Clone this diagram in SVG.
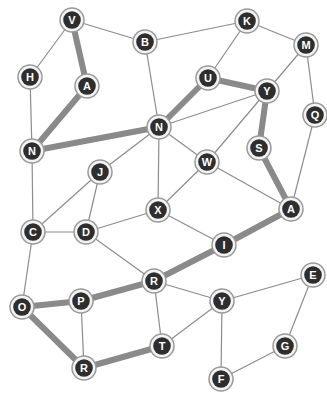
<svg xmlns="http://www.w3.org/2000/svg" width="327" height="396" viewBox="0 0 327 396">
<style>
.e{stroke:#8c8c8c;stroke-width:1.2;fill:none}
.t{stroke:#8a8a8a;stroke-width:6;fill:none;stroke-linecap:round}
.o{fill:#f4f4f4;stroke:#9a9a9a;stroke-width:1.5}
.i{fill:#2e2e2e}
.l{fill:#ffffff;font-family:"Liberation Sans",Arial,sans-serif;font-weight:bold;font-size:11px;text-anchor:middle;dominant-baseline:central}
</style>
<defs>
<g id="nd"><circle class="o" r="12"/><circle class="i" r="8.8"/></g>
</defs>
<rect width="327" height="396" fill="#ffffff"/>
<g id="connectors">
<line class="e" x1="72" y1="20" x2="145" y2="42"/>
<line class="e" x1="72" y1="20" x2="30" y2="77"/>
<line class="e" x1="30" y1="77" x2="32" y2="151"/>
<line class="e" x1="145" y1="42" x2="159" y2="127"/>
<line class="e" x1="145" y1="42" x2="247" y2="21"/>
<line class="e" x1="247" y1="21" x2="208" y2="78"/>
<line class="e" x1="247" y1="21" x2="306" y2="45"/>
<line class="e" x1="306" y1="45" x2="267" y2="91"/>
<line class="e" x1="306" y1="45" x2="315" y2="115"/>
<line class="e" x1="159" y1="127" x2="267" y2="91"/>
<line class="e" x1="159" y1="127" x2="207" y2="162"/>
<line class="e" x1="159" y1="127" x2="100" y2="172"/>
<line class="e" x1="159" y1="127" x2="158" y2="210"/>
<line class="e" x1="267" y1="91" x2="207" y2="162"/>
<line class="e" x1="315" y1="115" x2="291" y2="209"/>
<line class="e" x1="207" y1="162" x2="291" y2="209"/>
<line class="e" x1="207" y1="162" x2="158" y2="210"/>
<line class="e" x1="32" y1="151" x2="33" y2="232"/>
<line class="e" x1="100" y1="172" x2="33" y2="232"/>
<line class="e" x1="100" y1="172" x2="86" y2="232"/>
<line class="e" x1="33" y1="232" x2="86" y2="232"/>
<line class="e" x1="33" y1="232" x2="22" y2="307"/>
<line class="e" x1="86" y1="232" x2="158" y2="210"/>
<line class="e" x1="86" y1="232" x2="154" y2="281"/>
<line class="e" x1="158" y1="210" x2="224" y2="245"/>
<line class="e" x1="81" y1="301" x2="84" y2="368"/>
<line class="e" x1="154" y1="281" x2="162" y2="346"/>
<line class="e" x1="154" y1="281" x2="222" y2="301"/>
<line class="e" x1="222" y1="301" x2="162" y2="346"/>
<line class="e" x1="222" y1="301" x2="313" y2="275"/>
<line class="e" x1="222" y1="301" x2="221" y2="379"/>
<line class="e" x1="313" y1="275" x2="285" y2="346"/>
<line class="e" x1="285" y1="346" x2="221" y2="379"/>
<line class="t" x1="72" y1="20" x2="87" y2="86"/>
<line class="t" x1="87" y1="86" x2="32" y2="151"/>
<line class="t" x1="32" y1="151" x2="159" y2="127"/>
<line class="t" x1="159" y1="127" x2="208" y2="78"/>
<line class="t" x1="208" y1="78" x2="267" y2="91"/>
<line class="t" x1="267" y1="91" x2="259" y2="148"/>
<line class="t" x1="259" y1="148" x2="291" y2="209"/>
<line class="t" x1="291" y1="209" x2="224" y2="245"/>
<line class="t" x1="224" y1="245" x2="154" y2="281"/>
<line class="t" x1="154" y1="281" x2="81" y2="301"/>
<line class="t" x1="81" y1="301" x2="22" y2="307"/>
<line class="t" x1="22" y1="307" x2="84" y2="368"/>
<line class="t" x1="84" y1="368" x2="162" y2="346"/>
</g>
<g id="V"><use href="#nd" x="72" y="20"/><text class="l" x="72" y="20">V</text></g>
<g id="B"><use href="#nd" x="145" y="42"/><text class="l" x="145" y="42">B</text></g>
<g id="K"><use href="#nd" x="247" y="21"/><text class="l" x="247" y="21">K</text></g>
<g id="M"><use href="#nd" x="306" y="45"/><text class="l" x="306" y="45">M</text></g>
<g id="H"><use href="#nd" x="30" y="77"/><text class="l" x="30" y="77">H</text></g>
<g id="A1"><use href="#nd" x="87" y="86"/><text class="l" x="87" y="86">A</text></g>
<g id="U"><use href="#nd" x="208" y="78"/><text class="l" x="208" y="78">U</text></g>
<g id="Y1"><use href="#nd" x="267" y="91"/><text class="l" x="267" y="91">Y</text></g>
<g id="Q"><use href="#nd" x="315" y="115"/><text class="l" x="315" y="115">Q</text></g>
<g id="N1"><use href="#nd" x="159" y="127"/><text class="l" x="159" y="127">N</text></g>
<g id="N2"><use href="#nd" x="32" y="151"/><text class="l" x="32" y="151">N</text></g>
<g id="S"><use href="#nd" x="259" y="148"/><text class="l" x="259" y="148">S</text></g>
<g id="W"><use href="#nd" x="207" y="162"/><text class="l" x="207" y="162">W</text></g>
<g id="J"><use href="#nd" x="100" y="172"/><text class="l" x="100" y="172">J</text></g>
<g id="X"><use href="#nd" x="158" y="210"/><text class="l" x="158" y="210">X</text></g>
<g id="A2"><use href="#nd" x="291" y="209"/><text class="l" x="291" y="209">A</text></g>
<g id="C"><use href="#nd" x="33" y="232"/><text class="l" x="33" y="232">C</text></g>
<g id="D"><use href="#nd" x="86" y="232"/><text class="l" x="86" y="232">D</text></g>
<g id="I"><use href="#nd" x="224" y="245"/><text class="l" x="224" y="245">I</text></g>
<g id="R1"><use href="#nd" x="154" y="281"/><text class="l" x="154" y="281">R</text></g>
<g id="E"><use href="#nd" x="313" y="275"/><text class="l" x="313" y="275">E</text></g>
<g id="P"><use href="#nd" x="81" y="301"/><text class="l" x="81" y="301">P</text></g>
<g id="O"><use href="#nd" x="22" y="307"/><text class="l" x="22" y="307">O</text></g>
<g id="Y2"><use href="#nd" x="222" y="301"/><text class="l" x="222" y="301">Y</text></g>
<g id="T"><use href="#nd" x="162" y="346"/><text class="l" x="162" y="346">T</text></g>
<g id="G"><use href="#nd" x="285" y="346"/><text class="l" x="285" y="346">G</text></g>
<g id="R2"><use href="#nd" x="84" y="368"/><text class="l" x="84" y="368">R</text></g>
<g id="F"><use href="#nd" x="221" y="379"/><text class="l" x="221" y="379">F</text></g>
</svg>
